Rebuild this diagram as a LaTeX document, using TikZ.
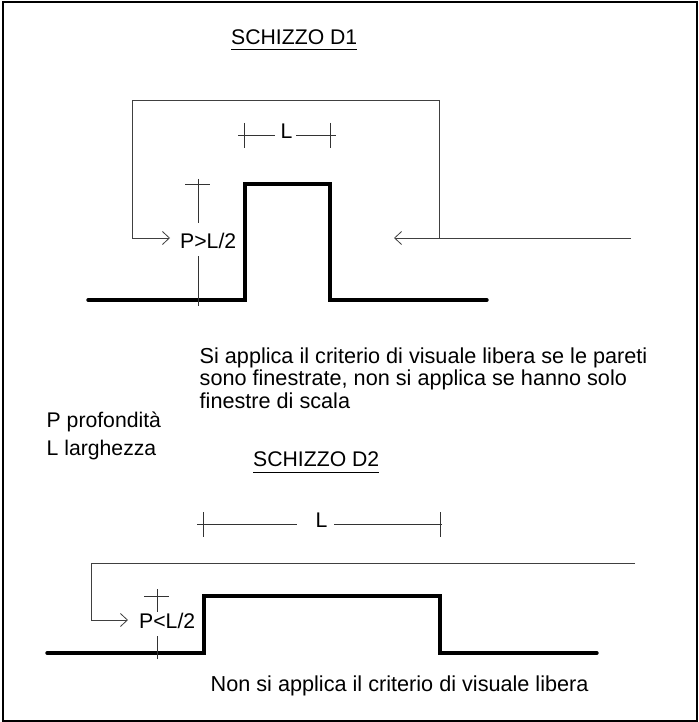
\documentclass[tikz,border=0pt]{standalone}
\usepackage{fontspec}
\setmainfont{Liberation Sans}
\usetikzlibrary{arrows.meta}
\tikzset{
  thin line/.style={draw=black!75,line width=0.9pt},
  tick line/.style={draw=black!80,line width=0.8pt},
  wall/.style={draw=black,line width=3.4pt,line cap=round,line join=miter},
  txt/.style={font=\fontsize{21.2}{24}\selectfont,inner sep=0pt,text=black,anchor=base west},
  sentence/.style={font=\fontsize{21.65}{24}\selectfont,inner sep=0pt,text=black,anchor=base west},
  uline/.style={draw=black,line width=1pt},
  arrowed/.style={thin line,-{Straight Barb[length=7pt,width=13pt,line width=0.8pt]}},
}
\begin{document}
\begin{tikzpicture}[x=1pt,y=-1pt]
\useasboundingbox (0,0) rectangle (698,722);
\fill[white] (0,0) rectangle (698,722);
\draw[black,line width=2pt] (3,2) rectangle (697,721);
% D1
\node[txt] (t1) at (231,45) {SCHIZZO D1};
\draw[uline] ([yshift=-5pt]t1.base west) -- ([yshift=-5pt]t1.base east);
\coordinate (a1) at (132,238); \coordinate (a2) at (132,100); \coordinate (a3) at (439,100); \coordinate (a4) at (439,238);
\coordinate (a5) at (170,238); \coordinate (a6) at (631,238); \coordinate (a7) at (394,238);
\draw[thin line] (a4) -- (a3) -- (a2) -- (a1);
\draw[arrowed] (a1) -- (a5);
\draw[arrowed] (a6) -- (a7);
\draw[wall] (88,300) -- (245,300) -- (245,184) -- (330,184) -- (330,300) -- (487,300);
\node[txt] (l1) at (280.5,139) {L};
\draw[tick line] (238,135) -- (275,135);
\draw[tick line] (296,135) -- (336,135);
\draw[tick line] (244,123) -- (244,148);
\draw[tick line] (330,123) -- (330,148);
\node[txt] (p1) at (180,248) {P>L/2};
\draw[tick line] (198,179) -- (198,223);
\draw[tick line] (198,256) -- (198,306);
\draw[tick line] (185,184) -- (210,184);
% text
\node[sentence] (s1) at (199.5,363) {Si applica il criterio di visuale libera se le pareti};
\node[sentence] (s2) at (199.5,385) {sono finestrate, non si applica se hanno solo};
\node[sentence] (s3) at (199.5,408) {finestre di scala};
\node[txt] (pp) at (46.5,427) {P profondità};
\node[txt] (ll) at (46.5,455) {L larghezza};
% D2
\node[txt] (t2) at (253,466) {SCHIZZO D2};
\draw[uline] ([yshift=-6pt]t2.base west) -- ([yshift=-6pt]t2.base east);
\node[txt] (l2) at (315.5,527) {L};
\draw[tick line] (197,524) -- (297,524);
\draw[tick line] (334,524) -- (442,524);
\draw[tick line] (203,512) -- (203,537);
\draw[tick line] (440,512) -- (440,537);
\draw[thin line] (635,563) -- (91,563) -- (91,620);
\draw[arrowed] (91,620) -- (128,620);
\draw[wall] (47,653) -- (204,653) -- (204,596) -- (440,596) -- (440,653) -- (597,653);
\node[txt] (p2) at (139,628) {P<L/2};
\draw[tick line] (157,589) -- (157,612);
\draw[tick line] (157,636) -- (157,659);
\draw[tick line] (144,596) -- (169,596);
\node[sentence] (s4) at (210.5,691) {Non si applica il criterio di visuale libera};
\end{tikzpicture}
\end{document}
